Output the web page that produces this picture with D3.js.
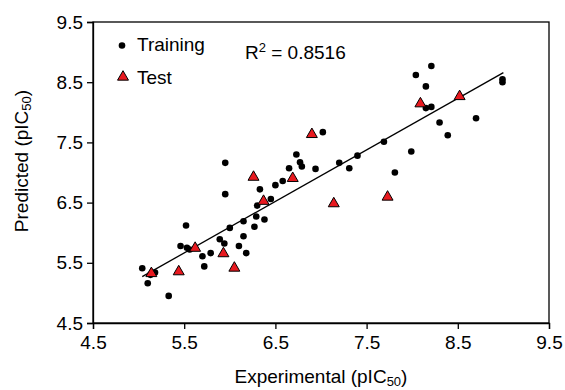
<!DOCTYPE html>
<html>
<head>
<meta charset="utf-8">
<script src="https://cdn.jsdelivr.net/npm/d3@7"></script>
<style>
  body { margin: 0; background: #fff; }
  text { font-family: "Liberation Sans", Arial, sans-serif; fill: #000; }
</style>
</head>
<body>
<div id="chart"></div>
<script>
var w = 565;
var h = 390;

// training set: [experimental, predicted]
var trainX = [5.04, 5.10, 5.13, 5.18, 5.33, 5.46, 5.53, 5.56, 5.52, 5.70, 5.72, 5.79, 5.89, 5.94, 5.95, 5.95,
              6.00, 6.10, 6.15, 6.15, 6.18, 6.27, 6.29, 6.30, 6.38, 6.33, 6.45, 6.50, 6.58, 6.65, 6.73, 6.77,
              6.79, 6.94, 7.02, 7.20, 7.31, 7.40, 7.69, 7.81, 7.99, 8.04, 8.15, 8.21, 8.15, 8.21, 8.30, 8.39,
              8.70, 8.99, 8.99];
var trainY = [5.41, 5.16, 5.30, 5.34, 4.95, 5.78, 5.75, 5.72, 6.12, 5.61, 5.44, 5.66, 5.89, 5.82, 6.64, 7.16,
              6.08, 5.78, 5.94, 6.19, 5.66, 6.10, 6.27, 6.45, 6.22, 6.72, 6.56, 6.79, 6.86, 7.07, 7.30, 7.17,
              7.10, 7.06, 7.67, 7.16, 7.07, 7.28, 7.51, 7.00, 7.35, 8.62, 8.43, 8.77, 8.07, 8.09, 7.83, 7.62,
              7.90, 8.55, 8.50];

// test set
var testX = [5.14, 5.44, 5.62, 5.93, 6.05, 6.26, 6.37, 6.69, 6.90, 7.14, 7.73, 8.09, 8.52];
var testY = [5.34, 5.37, 5.76, 5.67, 5.43, 6.94, 6.54, 6.92, 7.65, 6.50, 6.61, 8.16, 8.28];

// fitted line: predicted = slope * experimental + intercept
var fitSlope = 0.856;
var fitIntercept = 0.956;
var fitRange = [5.04, 9.0];

var ticks = [4.5, 5.5, 6.5, 7.5, 8.5, 9.5];
var legendLabels = ["Training", "Test"];

var margin = { left: 93, right: 16, top: 22, bottom: 67 };

var svg = d3.select("#chart")
            .append("svg")
            .attr("width", w)
            .attr("height", h);

var xScale = d3.scaleLinear()
               .domain([4.5, 9.5])
               .range([margin.left, w - margin.right]);

var yScale = d3.scaleLinear()
               .domain([4.5, 9.5])
               .range([h - margin.bottom, margin.top]);

// frame (top and right)
svg.append("rect")
   .attr("x", xScale(4.5))
   .attr("y", yScale(9.5))
   .attr("width", xScale(9.5) - xScale(4.5))
   .attr("height", yScale(4.5) - yScale(9.5))
   .attr("fill", "none")
   .attr("stroke", "#000")
   .attr("stroke-width", 1.3);

var xAxis = svg.append("g")
   .attr("transform", "translate(0," + yScale(4.5) + ")")
   .call(d3.axisBottom(xScale).tickValues(ticks).tickFormat(d3.format(".1f")).tickSizeOuter(0).tickSize(6).tickPadding(5));

var yAxis = svg.append("g")
   .attr("transform", "translate(" + xScale(4.5) + ",0)")
   .call(d3.axisLeft(yScale).tickValues(ticks).tickFormat(d3.format(".1f")).tickSizeOuter(0).tickSize(6).tickPadding(4));

svg.selectAll(".tick text")
   .style("font-size", "19px")
   .style("font-family", "'Liberation Sans', Arial, sans-serif");
svg.selectAll(".domain, .tick line")
   .attr("stroke", "#000")
   .attr("stroke-width", 1.3);
xAxis.selectAll(".tick text").attr("dy", "0.8em");

// regression line
svg.append("line")
   .attr("x1", xScale(fitRange[0]))
   .attr("y1", yScale(fitSlope * fitRange[0] + fitIntercept))
   .attr("x2", xScale(fitRange[1]))
   .attr("y2", yScale(fitSlope * fitRange[1] + fitIntercept))
   .attr("stroke", "#000")
   .attr("stroke-width", 1.3);

var tri = d3.symbol().type(d3.symbolTriangle).size(52);

// training points
svg.append("g")
   .selectAll("circle")
   .data(trainX)
   .enter()
   .append("circle")
   .attr("cx", function(d) { return xScale(d); })
   .attr("cy", function(d, i) { return yScale(trainY[i]); })
   .attr("r", 3.3)
   .attr("fill", "#000");

// test points
svg.append("g")
   .selectAll("path")
   .data(testX)
   .enter()
   .append("path")
   .attr("d", tri)
   .attr("transform", function(d, i) {
       return "translate(" + xScale(d) + "," + (yScale(testY[i]) + 1) + ")";
   })
   .attr("fill", "#e8191f")
   .attr("stroke", "#000")
   .attr("stroke-width", 1);

// legend
svg.append("circle")
   .attr("cx", 122).attr("cy", 45.5).attr("r", 3.3).attr("fill", "#000");
svg.append("path")
   .attr("d", tri)
   .attr("transform", "translate(123,77)")
   .attr("fill", "#e8191f")
   .attr("stroke", "#000")
   .attr("stroke-width", 1);
svg.selectAll(".legtext")
   .data(legendLabels)
   .enter()
   .append("text")
   .attr("class", "legtext")
   .attr("x", 137)
   .attr("y", function(d, i) { return 51 + i * 32.5; })
   .style("font-size", "19px")
   .text(function(d) { return d; });

// R squared
var r2 = svg.append("text")
   .attr("x", 245)
   .attr("y", 59)
   .style("font-size", "19px");
r2.append("tspan").text("R");
r2.append("tspan").attr("dy", -7).style("font-size", "13px").text("2");
r2.append("tspan").attr("dy", 7).text(" = 0.8516");

// axis titles
var xt = svg.append("text")
   .attr("x", (xScale(4.5) + xScale(9.5)) / 2)
   .attr("y", 383)
   .attr("text-anchor", "middle")
   .style("font-size", "19px");
xt.append("tspan").text("Experimental (pIC");
xt.append("tspan").attr("dy", 3).style("font-size", "13px").text("50");
xt.append("tspan").attr("dy", -3).text(")");

var yt = svg.append("text")
   .attr("transform", "translate(28,161) rotate(-90)")
   .attr("text-anchor", "middle")
   .style("font-size", "19px");
yt.append("tspan").text("Predicted (pIC");
yt.append("tspan").attr("dy", 3).style("font-size", "13px").text("50");
yt.append("tspan").attr("dy", -3).text(")");
</script>
</body>
</html>
